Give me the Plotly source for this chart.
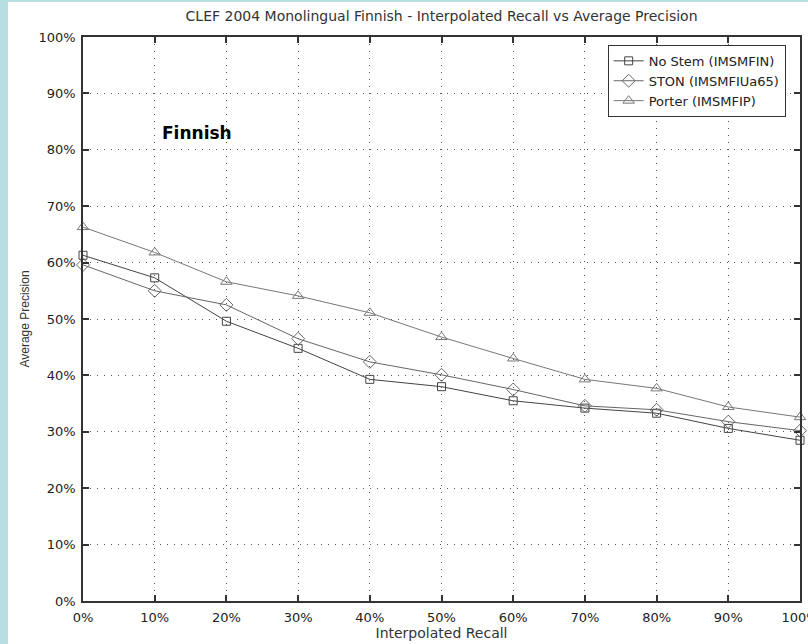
import plotly.graph_objects as go

recall = [0, 10, 20, 30, 40, 50, 60, 70, 80, 90, 100]
no_stem = [61.3, 57.3, 49.6, 44.8, 39.3, 38.0, 35.5, 34.2, 33.3, 30.6, 28.5]
ston = [59.6, 55.0, 52.5, 46.5, 42.4, 40.1, 37.5, 34.6, 33.9, 31.8, 30.2]
porter = [66.3, 61.8, 56.6, 54.1, 51.1, 46.8, 43.0, 39.3, 37.7, 34.4, 32.6]
tick_vals = [0, 10, 20, 30, 40, 50, 60, 70, 80, 90, 100]
tick_text = [f"{v}%" for v in tick_vals]

series = [
    ("No Stem (IMSMFIN)", no_stem, "square-open", 8, "#444"),
    ("STON (IMSMFIUa65)", ston, "diamond-open", 10, "#666"),
    ("Porter (IMSMFIP)", porter, "triangle-up-open", 10, "#777"),
]

fig = go.Figure()
for name, vals, sym, size, col in series:
    fig.add_trace(go.Scatter(
        x=recall, y=vals, name=name, mode="lines+markers",
        line=dict(color=col, width=1),
        marker=dict(symbol=sym, size=size, color=col, line=dict(color=col, width=1)),
        cliponaxis=False,
    ))

font = "DejaVu Sans, sans-serif"
axis_common = dict(
    range=[0, 100], tickvals=tick_vals, ticktext=tick_text,
    showgrid=True, gridcolor="#555", griddash="1px,6px", gridwidth=1,
    showline=True, linecolor="#333", linewidth=1.5, mirror="ticks",
    ticks="inside", ticklen=6, tickcolor="#333", tickwidth=1.5,
    zeroline=False, tickfont=dict(family=font, size=13, color="#222"),
    ticklabeloverflow="allow", automargin=False,
)

fig.update_layout(
    width=808, height=644,
    margin=dict(l=83, r=8, t=37, b=43, autoexpand=False),
    paper_bgcolor="white", plot_bgcolor="white",
    title=dict(text="CLEF 2004 Monolingual Finnish - Interpolated Recall vs Average Precision",
               x=0.5465, xanchor="center", y=0.975, yanchor="middle",
               font=dict(family=font, size=14, color="#333")),
    xaxis=dict(**axis_common, ticklabelstandoff=4,
               title=dict(text="Interpolated Recall", standoff=0,
                          font=dict(family=font, size=14, color="#333"))),
    yaxis=dict(**axis_common, ticklabelstandoff=3,
               title=dict(text="Average Precision", standoff=6,
                          font=dict(family="Liberation Sans, Arial, sans-serif", size=12, color="#333"))),
    legend=dict(x=0.98, y=0.986, xanchor="right", yanchor="top",
                bgcolor="white", bordercolor="#333", borderwidth=1,
                font=dict(family=font, size=13, color="#222"),
                tracegroupgap=0, itemwidth=30),
    showlegend=True,
    annotations=[dict(text="<b>Finnish</b>", x=15.9, y=83.0, xref="x", yref="y",
                      showarrow=False, font=dict(family=font, size=17, color="black"))],
    shapes=[
        dict(type="rect", xref="paper", yref="paper", x0=-0.2, x1=-0.1046, y0=-0.2, y1=1.2,
             fillcolor="#b7dfe2", line=dict(width=0), layer="below"),
        dict(type="rect", xref="paper", yref="paper", x0=-0.2, x1=1.1, y0=1.0622, y1=1.2,
             fillcolor="#b7dfe2", line=dict(width=0), layer="below"),
    ],
)

fig.write_html("out.html")
